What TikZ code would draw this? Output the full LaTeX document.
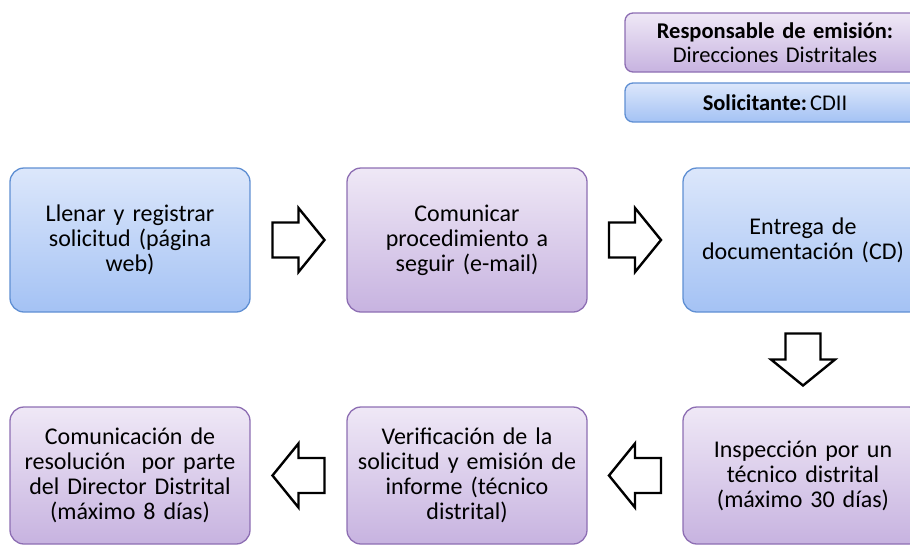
\documentclass[tikz,border=0pt]{standalone}
\usepackage{fontspec}
\setmainfont{Carlito}
\usetikzlibrary{calc}
\definecolor{bluetop}{HTML}{DCE7FB}
\definecolor{bluebot}{HTML}{A4C2F4}
\definecolor{blueline}{HTML}{5F8FD3}
\definecolor{purtop}{HTML}{EFE8F6}
\definecolor{purbot}{HTML}{C7B3E0}
\definecolor{purline}{HTML}{8D6EB3}
\tikzset{
  box/.style={rectangle, rounded corners=14pt, line width=1.3pt, minimum width=240pt,
    text width=225pt, align=center, inner sep=0pt,
    font=\fontsize{24}{25}\selectfont},
  bluebox/.style={box, draw=blueline, top color=bluetop, bottom color=bluebot},
  purbox/.style={box, draw=purline, top color=purtop, bottom color=purbot},
  legbox/.style={rectangle, rounded corners=8pt, line width=1.3pt, minimum width=300pt,
    text width=290pt, align=center, inner sep=0pt, font=\fontsize{22.5}{24.5}\selectfont},
  blockarrow/.pic={
    \draw[line width=2.4pt, fill=white, line join=miter, miter limit=10]
      (-26,-17.5) -- (0,-17.5) -- (0,-32) -- (26,0) -- (0,32) -- (0,17.5) -- (-26,17.5) -- cycle;
  }
}
\begin{document}
\begin{tikzpicture}[x=1pt, y=-1pt]
\useasboundingbox (0,0) rectangle (910,544);
\clip (0,0) rectangle (910,544);
% legend
\node[legbox, draw=purline, top color=purtop, bottom color=purbot, minimum height=59pt]
  (la) at (775,42.5) {\textbf{Responsable de emisión:}\\Direcciones Distritales};
\node[legbox, draw=blueline, top color=bluetop, bottom color=bluebot, minimum height=39pt]
  (lb) at (775,102.5) {\textbf{Solicitante:}\hspace{3pt}CDII};
% top row
\node[bluebox, minimum height=144pt] (b1) at (130,240) {Llenar y registrar\\solicitud (página\\web)};
\node[purbox, minimum height=144pt] (b2) at (467,240) {Comunicar\\procedimiento a\\seguir (e-mail)};
\node[bluebox, minimum height=144pt] (b3) at (803,240) {Entrega de\\documentación (CD)};
% bottom row
\node[purbox, minimum height=137pt] (b4) at (130,475.5) {Comunicación de\\resolución\ \ por parte\\del Director Distrital\\(máximo 8 días)};
\node[purbox, minimum height=137pt] (b5) at (467,475.5) {Verificación de la\\solicitud y emisión de\\informe (técnico\\distrital)};
\node[purbox, minimum height=137pt] (b6) at (803,475.5) {Inspección por un\\técnico distrital\\(máximo 30 días)};
% block arrows
\coordinate (a1) at ($(b1.east)!0.5!(b2.west)$);
\coordinate (a2) at ($(b2.east)!0.5!(b3.west)$);
\coordinate (a3) at ($(b3.south)!0.5!(b6.north)$);
\coordinate (a4) at ($(b6.west)!0.5!(b5.east)$);
\coordinate (a5) at ($(b5.west)!0.5!(b4.east)$);
\pic at (a1) {blockarrow};
\pic at (a2) {blockarrow};
\pic[rotate=-90] at (a3) {blockarrow};
\pic[rotate=180] at (a4) {blockarrow};
\pic[rotate=180] at (a5) {blockarrow};
\end{tikzpicture}
\end{document}
